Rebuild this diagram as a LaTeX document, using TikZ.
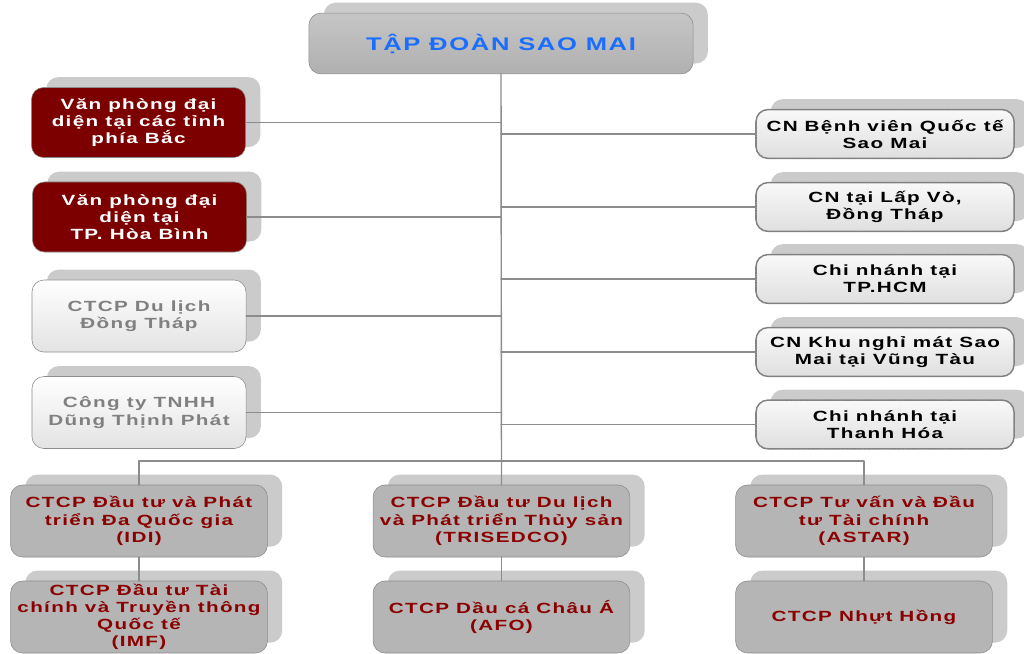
\documentclass[tikz,border=0pt]{standalone}
\usepackage{fontspec}
\setmainfont{Liberation Sans}[FakeStretch=1.4,LetterSpace=9]
\usetikzlibrary{shadows}
\definecolor{linegray}{HTML}{8C8C8C}
\definecolor{shadegray}{HTML}{CBCBCB}
\definecolor{deepred}{HTML}{7C0000}
\definecolor{textred}{HTML}{8B0000}
\definecolor{titleblue}{HTML}{1A6EFF}
\tikzset{
  box/.style={draw=linegray,rounded corners=0.3cm,align=center,inner sep=1pt,
    font=\bfseries\fontsize{10.5}{12.2}\selectfont,
    general shadow={fill=shadegray,shadow xshift=0.37cm,shadow yshift=0.26cm,sharp corners}},
  topbox/.style={box,minimum width=9.6cm,minimum height=1.52cm,top color=gray!45,bottom color=gray!62,
    text=titleblue,font=\bfseries\fontsize{13}{15}\selectfont},
  office/.style={box,minimum width=5.35cm,minimum height=1.75cm,fill=deepred,text=white},
  affiliate/.style={box,minimum width=5.35cm,minimum height=1.8cm,top color=white,bottom color=gray!22,text=gray},
  branch/.style={box,minimum width=6.45cm,minimum height=1.22cm,top color=gray!5,bottom color=gray!25,
    dash pattern=on 1.3pt off 0.5pt,line width=1.1pt,draw=gray,text=black},
  company/.style={box,minimum width=6.42cm,minimum height=1.8cm,fill=gray!58,text=textred},
  link/.style={draw=linegray,line width=1pt}
}
\begin{document}
\begin{tikzpicture}[x=0.025cm,y=-0.025cm,line join=round,line cap=round]
	\useasboundingbox (0,0) rectangle (1024,653);
	% tap doan
	\node[topbox] (sm) at (501,43.5) {TẬP ĐOÀN SAO MAI};
	% left side
	\node[office] (vpbac) at (138.5,122.5) {Văn phòng đại\\diện tại các tỉnh\\phía Bắc};
	\node[office] (vphb) at (139.5,217) {Văn phòng đại\\diện tại\\TP. Hòa Bình};
	\node[affiliate] (dulich) at (139,316) {CTCP Du lịch\\Đồng Tháp};
	\node[affiliate] (dtp) at (139,412.5) {Công ty TNHH\\Dũng Thịnh Phát};
	% right side
	\node[branch] (benhvien) at (885,134) {CN Bệnh viên Quốc tế\\Sao Mai};
	\node[branch] (lapvo) at (885,207) {CN tại Lấp Vò,\\Đồng Tháp};
	\node[branch] (hcm) at (885,279) {Chi nhánh tại\\TP.HCM};
	\node[branch] (vungtau) at (885,352) {CN Khu nghỉ mát Sao\\Mai tại Vũng Tàu};
	\node[branch] (thanhhoa) at (885,424.5) {Chi nhánh tại\\Thanh Hóa};
	% bottom companies
	\node[company] (idi) at (139,521) {CTCP Đầu tư và Phát\\triển Đa Quốc gia\\(IDI)};
	\node[company] (imf) at (139,617) {CTCP Đầu tư Tài\\chính và Truyền thông\\Quốc tế\\(IMF)};
	\node[company] (trisedco) at (501.5,521) {CTCP Đầu tư Du lịch\\và Phát triển Thủy sản\\(TRISEDCO)};
	\node[company] (afo) at (501.5,617) {CTCP Dầu cá Châu Á\\(AFO)};
	\node[company] (astar) at (864,521) {CTCP Tư vấn và Đầu\\tư Tài chính\\(ASTAR)};
	\node[company] (nhuthong) at (864,617) {CTCP Nhựt Hồng};
	\coordinate (bus) at (501,461);
	% connectors
	\draw[link] (sm.south) -- (trisedco.north);
	\foreach \n in {vpbac,vphb,dulich,dtp}
		\draw[link] (\n.east) -- (\n.east -| sm.south);
	\foreach \n in {benhvien,lapvo,hcm,vungtau,thanhhoa}
		\draw[link] (\n.west) -- (\n.west -| sm.south);
	\draw[link] (idi.north) |- (bus) -| (astar.north);
	\draw[link] (idi) -- (imf);
	\draw[link] (trisedco) -- (afo);
	\draw[link] (astar) -- (nhuthong);
\end{tikzpicture}
\end{document}
